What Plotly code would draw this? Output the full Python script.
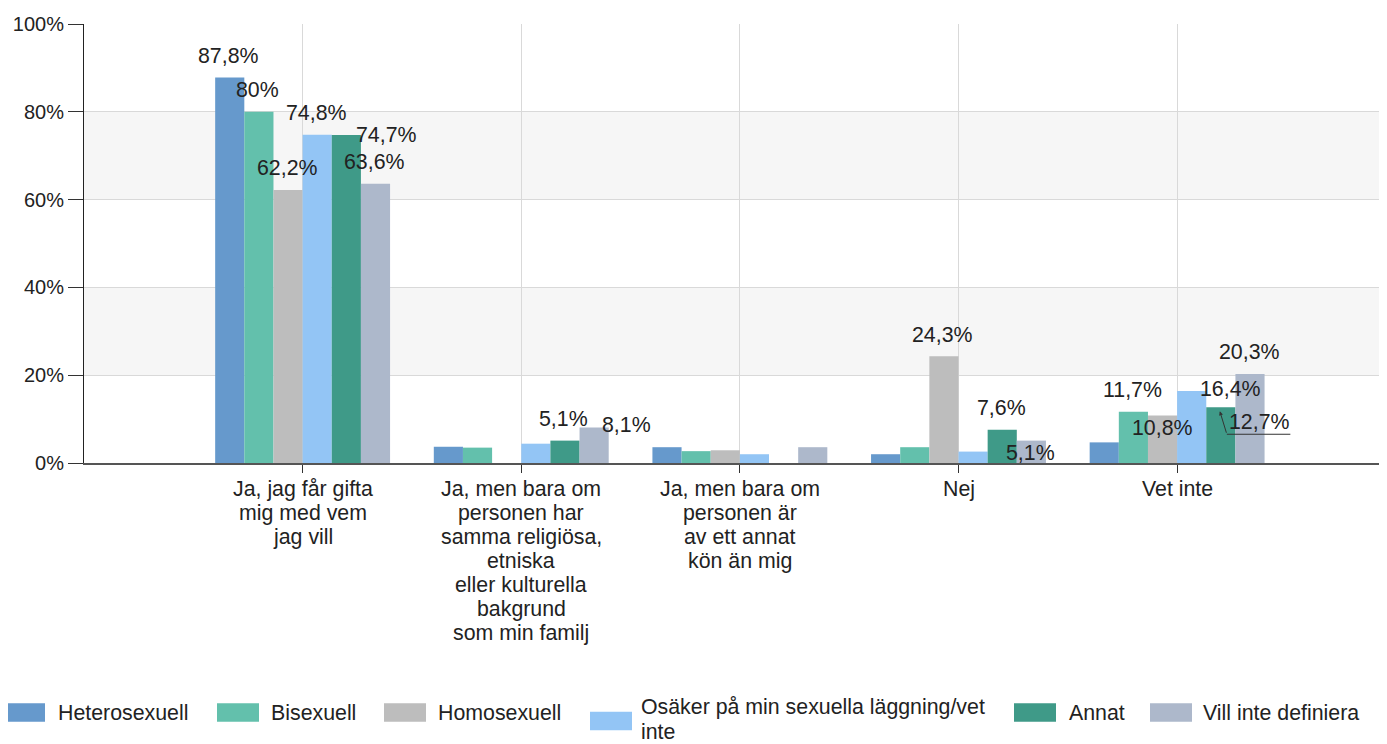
import plotly.graph_objects as go

# ---------------- data ----------------
categories = [
    "Ja, jag får gifta<br>mig med vem<br>jag vill",
    "Ja, men bara om<br>personen har<br>samma religiösa,<br>etniska<br>eller kulturella<br>bakgrund<br>som min familj",
    "Ja, men bara om<br>personen är<br>av ett annat<br>kön än mig",
    "Nej",
    "Vet inte",
]
series_names = [
    "Heterosexuell",
    "Bisexuell",
    "Homosexuell",
    "Osäker på min sexuella läggning/vet inte",
    "Annat",
    "Vill inte definiera",
]
heterosexuell = [87.8, 3.7, 3.6, 2.0, 4.7]
bisexuell = [80.0, 3.5, 2.7, 3.6, 11.7]
homosexuell = [62.2, 0.0, 2.9, 24.3, 10.8]
osaker = [74.8, 4.4, 2.0, 2.6, 16.4]
annat = [74.7, 5.1, 0.0, 7.6, 12.7]
vill_inte = [63.6, 8.1, 3.6, 5.1, 20.3]
series_values = [heterosexuell, bisexuell, homosexuell, osaker, annat, vill_inte]
y_tick_values = [0, 20, 40, 60, 80, 100]
y_tick_labels = ["0%", "20%", "40%", "60%", "80%", "100%"]
label_threshold = 5.0

# ---------------- styles ----------------
colors = ["#6699cc", "#63c0ac", "#bdbdbd", "#93c5f5", "#3f9a88", "#adb8cb"]
FONT = "Liberation Sans, Arial, sans-serif"
TXT = "#222222"
BIG = 21.33
PAGE_OFF = 8          # default body margin of the html page
VIEW_W, VIEW_H = 1387, 744
W, H = VIEW_W - PAGE_OFF, VIEW_H - PAGE_OFF
PLOT_L, PLOT_T, PLOT_B = 84, 24, 463   # page pixels
ML, MR, MT = PLOT_L - PAGE_OFF, 0, PLOT_T - PAGE_OFF
MB = H - MT - (PLOT_B - PLOT_T)
BARGAP = 0.2
nser = len(series_names)
bar_w = (1 - BARGAP) / nser

# category label lines: first line offset below axis and line spacing (px)
cat_first = 26
cat_step = 24

# label offsets in px (dx, dy from bar top; dy negative = above)
default_offset = (-1, -21.5)
label_offsets = {
    (0, 4): (40, 0),
    (1, 5): (32, -2),
    (3, 5): (-1, 12.5),
    (4, 2): (0, 12.5),
    (4, 3): (39, -2),
    (4, 4): (39, 14.5),
}
# custom legend layout (page pixels)
legend_swatch_x = [3, 217, 384, 590, 1014, 1150]
legend_swatch_y = [712.5, 712.5, 712.5, 721, 712.5, 712.5]
legend_text_x = [57, 270, 437, 640, 1068, 1202]
legend_lines = [
    ["Heterosexuell"],
    ["Bisexuell"],
    ["Homosexuell"],
    ["Osäker på min sexuella läggning/vet", "inte"],
    ["Annat"],
    ["Vill inte definiera"],
]
legend_line_y0 = [713, 713, 713, 707, 713, 713]
legend_line_step = 24.5
swatch_w, swatch_h = 42, 18.5

fig = go.Figure()
for name, vals, col in zip(series_names, series_values, colors):
    fig.add_trace(go.Bar(
        name=name, x=categories, y=vals,
        marker=dict(color=col, line=dict(width=0)),
        showlegend=False,
        hovertemplate="%{y}%<extra>" + name + "</extra>",
    ))

def fmt(v):
    s = ("%.1f" % v).rstrip("0").rstrip(".")
    return s.replace(".", ",") + "%"

annotations = []
for j, vals in enumerate(series_values):
    off = -(1 - BARGAP) / 2 + (j + 0.5) * bar_w
    for i, v in enumerate(vals):
        if v < label_threshold:
            continue
        dx, dy = label_offsets.get((i, j), default_offset)
        annotations.append(dict(
            x=i + off, y=v, xref="x", yref="y", text=fmt(v),
            showarrow=False, xanchor="center", yanchor="middle",
            xshift=dx, yshift=-dy,
            font=dict(family=FONT, size=BIG, color=TXT),
        ))

# leader line for the "Annat / Vet inte" label
off_annat = -(1 - BARGAP) / 2 + (4 + 0.5) * bar_w
annotations.append(dict(
    x=4 + off_annat, y=annat[4], xref="x", yref="y", text="",
    showarrow=True, arrowhead=2, arrowsize=0.8, arrowwidth=1, arrowcolor="#333",
    ax=7, ay=23, xshift=-1, yshift=-4, standoff=0,
))
annotations.append(dict(
    x=4 + off_annat, y=annat[4], xref="x", yref="y", text="",
    showarrow=True, arrowhead=0, arrowwidth=1, arrowcolor="#333",
    ax=65, ay=0, xshift=6, yshift=-27, standoff=0,
))

# category labels, line by line (tight line spacing as in the reference)
for i, cat in enumerate(categories):
    for k, line in enumerate(cat.split("<br>")):
        annotations.append(dict(
            x=i, y=0, xref="x", yref="y", text=line, showarrow=False,
            xanchor="center", yanchor="middle",
            yshift=-(cat_first + k * cat_step),
            font=dict(family=FONT, size=BIG, color=TXT),
        ))

pw = W - ML - MR
ph = H - MT - MB
def px_x(p):
    return (p - PAGE_OFF - ML) / pw
def px_y(p):
    return 1 - (p - PAGE_OFF - MT) / ph

shapes = []
for lo, hi in [(20, 40), (60, 80)]:
    shapes.append(dict(type="rect", xref="paper", yref="y", x0=0, x1=1, y0=lo, y1=hi,
                       fillcolor="#f6f6f6", line=dict(width=0), layer="below"))
for k in range(nser):
    shapes.append(dict(type="rect", xref="paper", yref="paper",
                       x0=px_x(legend_swatch_x[k]), x1=px_x(legend_swatch_x[k] + swatch_w),
                       y0=px_y(legend_swatch_y[k] + swatch_h / 2),
                       y1=px_y(legend_swatch_y[k] - swatch_h / 2),
                       fillcolor=colors[k], line=dict(width=0)))
    for li, line in enumerate(legend_lines[k]):
        annotations.append(dict(
            x=px_x(legend_text_x[k]), y=px_y(legend_line_y0[k] + li * legend_line_step),
            xref="paper", yref="paper",
            text=line, showarrow=False, xanchor="left", yanchor="middle",
            align="left", font=dict(family=FONT, size=BIG, color=TXT),
            borderpad=0,
        ))

fig.update_layout(
    width=W, height=H,
    margin=dict(l=ML, r=MR, t=MT, b=MB, pad=0, autoexpand=False),
    paper_bgcolor="white", plot_bgcolor="white",
    barmode="group", bargap=BARGAP, bargroupgap=0,
    font=dict(family=FONT, size=20, color=TXT),
    showlegend=False,
    shapes=shapes, annotations=annotations,
    xaxis=dict(
        type="category", range=[-1, 4.96],
        showgrid=True, gridcolor="#d9d9d9", gridwidth=1,
        showline=True, linecolor="#555555", linewidth=2,
        ticks="outside", ticklen=8, tickcolor="#333", tickwidth=1,
        showticklabels=False,
        zeroline=False, fixedrange=True,
    ),
    yaxis=dict(
        range=[0, 100], tickmode="array", tickvals=y_tick_values, ticktext=y_tick_labels,
        showgrid=True, gridcolor="#d9d9d9", gridwidth=1,
        showline=True, linecolor="#222222", linewidth=1,
        ticks="outside", ticklen=15, tickcolor="#333", tickwidth=1,
        tickfont=dict(family=FONT, size=20, color=TXT),
        zeroline=False, fixedrange=True,
    ),
)

fig.write_html("out.html")
